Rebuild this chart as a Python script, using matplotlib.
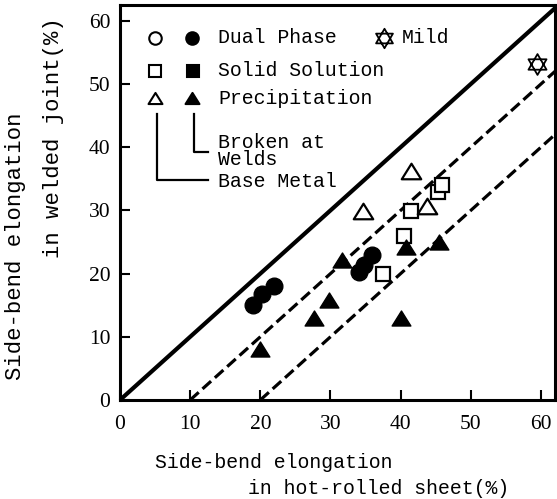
import matplotlib
matplotlib.use("Agg")
import matplotlib.pyplot as plt
from matplotlib.path import Path
import numpy as np

# ---- data ----
dual_broken_x = [18.9, 20.3, 21.9, 34.0, 34.8, 35.9]
dual_broken_y = [15.1, 16.8, 18.0, 20.2, 21.4, 23.0]

solid_base_x = [37.5, 40.5, 41.5, 45.3, 45.9]
solid_base_y = [20.0, 26.0, 29.9, 32.9, 34.0]

precip_base_x = [34.6, 41.5, 43.7]
precip_base_y = [29.9, 36.2, 30.7]

precip_broken_x = [19.9, 27.6, 29.8, 31.7, 40.0, 40.7, 45.4]
precip_broken_y = [8.0, 13.0, 15.9, 22.2, 13.0, 24.2, 25.0]

mild_x = [59.4]
mild_y = [53.2]

line_offsets = [0, 10, 20]          # y = x - offset
x_ticks = [0, 10, 20, 30, 40, 50, 60]
y_ticks = [0, 10, 20, 30, 40, 50, 60]
xlabel_lines = ["Side-bend elongation", "in hot-rolled sheet(%)"]
ylabel_lines = ["Side-bend elongation", "in welded joint(%)"]
legend_rows = ["Dual Phase", "Solid Solution", "Precipitation"]
legend_mild = "Mild"
bracket_labels = ["Broken at\nWelds", "Base Metal"]

# ---- custom markers ----
tri = Path([(-1, -0.8), (1, -0.8), (0, 0.8), (-1, -0.8)],
           [Path.MOVETO, Path.LINETO, Path.LINETO, Path.CLOSEPOLY])
ang_up = np.deg2rad([90, 210, 330])
ang_dn = np.deg2rad([270, 30, 150])
hv = []
hc = []
for angs in (ang_up, ang_dn):
    pts = [(np.cos(a), np.sin(a)) for a in angs]
    hv += pts + [pts[0]]
    hc += [Path.MOVETO, Path.LINETO, Path.LINETO, Path.CLOSEPOLY]
hexagram = Path(hv, hc)

W, H = 557, 499
fig = plt.figure(figsize=(W / 100, H / 100), dpi=100)
ax = fig.add_axes([120 / W, 1 - 400 / H, 435 / W, 395 / H])
XMAX, YMAX = 62.0, 62.5
ax.set_xlim(0, XMAX)
ax.set_ylim(0, YMAX)

# reference lines
for off in line_offsets:
    xs = [off, XMAX]
    ys = [0, XMAX - off]
    if off == 0:
        ax.plot(xs, ys, color="black", lw=3.0, solid_capstyle="butt", clip_on=True)
    else:
        ax.plot(xs, ys, color="black", lw=2.3, linestyle=(0, (3.6, 1.6)),
                dash_capstyle="butt", clip_on=True)

mk = dict(color="black", linestyle="none", clip_on=False)
ax.plot(dual_broken_x, dual_broken_y, marker="o", ms=12, mfc="black", mec="black", **mk)
ax.plot(solid_base_x, solid_base_y, marker="s", ms=10.5, mfc="white", mec="black", mew=1.6, **mk)
ax.plot(precip_base_x, precip_base_y, marker=tri, ms=14, mfc="white", mec="black", mew=1.6, **mk)
ax.plot(precip_broken_x, precip_broken_y, marker=tri, ms=13.5, mfc="black", mec="black", **mk)
ax.plot(mild_x, mild_y, marker=hexagram, ms=15, mfc="none", mec="black", mew=1.3, **mk)

# axes styling
for s in ax.spines.values():
    s.set_linewidth(2.2)
ax.set_xticks(x_ticks)
ax.set_yticks(y_ticks)
ax.set_xticklabels([str(t) for t in x_ticks])
ax.set_yticklabels([str(t) for t in y_ticks])
ax.tick_params(direction="in", length=7, width=1.5, top=False, right=False)
ax.tick_params(axis="x", pad=11)
ax.tick_params(axis="y", pad=7)
for lab in ax.get_xticklabels() + ax.get_yticklabels():
    lab.set_fontfamily("Liberation Serif")
    lab.set_fontsize(15.5)

mono = "Liberation Mono"

def P(x, y):
    return (x / W, 1 - y / H)

tf = fig.transFigure

# axis labels
fig.text(*P(273.5, 462), xlabel_lines[0], transform=tf, family=mono, fontsize=14.3,
         ha="center", va="center")
fig.text(*P(378.5, 488), xlabel_lines[1], transform=tf, family=mono, fontsize=14.3,
         ha="center", va="center")
fig.text(*P(16, 246), ylabel_lines[0], transform=tf, family=mono, fontsize=16,
         ha="center", va="center", rotation=90)
fig.text(*P(54, 138), ylabel_lines[1], transform=tf, family=mono, fontsize=16,
         ha="center", va="center", rotation=90)

# legend symbols
def sym(x, y, marker, ms, filled, mew=1.5):
    fig.add_artist(plt.Line2D([x / W], [1 - y / H], transform=tf, marker=marker, ms=ms,
                              mfc="black" if filled else "white", mec="black", mew=mew,
                              linestyle="none"))

rows_y = [37.5, 71, 98]
sym(155, rows_y[0], "o", 9, False)
sym(192, rows_y[0], "o", 9, True)
sym(155, rows_y[1], "s", 8.5, False)
sym(193, rows_y[1], "s", 8.5, True)
sym(155, rows_y[2], tri, 10, False)
sym(192, rows_y[2], tri, 10, True)
fig.add_artist(plt.Line2D([384 / W], [1 - 37.5 / H], transform=tf, marker=hexagram, ms=14,
                          mfc="none", mec="black", mew=1.3, linestyle="none"))

for txt, yy in zip(legend_rows, rows_y):
    fig.text(*P(218, yy), txt, transform=tf, family=mono, fontsize=14.3,
             ha="left", va="center")
fig.text(*P(402, rows_y[0]), legend_mild, transform=tf, family=mono, fontsize=14.3,
         ha="left", va="center")

# bracket lines
fig.add_artist(plt.Line2D([157 / W, 157 / W, 208 / W],
                          [1 - 114 / H, 1 - 179.5 / H, 1 - 179.5 / H],
                          transform=tf, color="black", lw=1.6))
fig.add_artist(plt.Line2D([193.5 / W, 193.5 / W, 208 / W],
                          [1 - 114 / H, 1 - 151.5 / H, 1 - 151.5 / H],
                          transform=tf, color="black", lw=1.6))
fig.text(*P(218, 151), bracket_labels[0], transform=tf, family=mono, fontsize=14.3,
         ha="left", va="center", linespacing=0.85)
fig.text(*P(218, 182), bracket_labels[1], transform=tf, family=mono, fontsize=14.3,
         ha="left", va="center")

fig.savefig("out.png", dpi=100)
